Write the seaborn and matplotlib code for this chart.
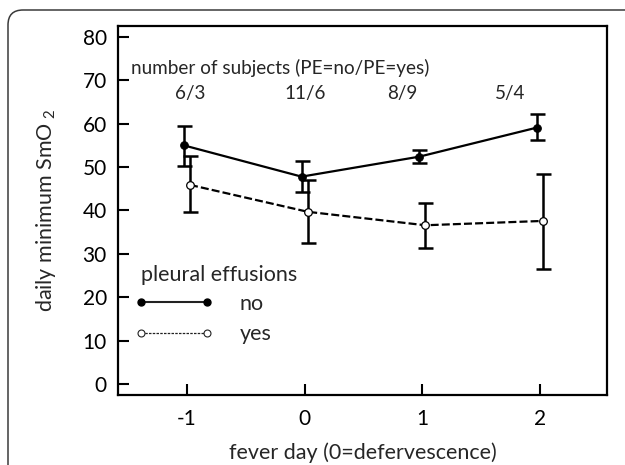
import matplotlib
matplotlib.use("Agg")
import matplotlib.pyplot as plt
import seaborn as sns
import pandas as pd
import numpy as np
from matplotlib.lines import Line2D
from matplotlib.patches import FancyBboxPatch

# Data: daily minimum SmO2 by fever day, split by pleural effusion status
days = [-1, 0, 1, 2]
no_mean = [55.0, 47.8, 52.4, 59.1]
no_upper = [59.5, 51.4, 53.9, 62.2]
no_lower = [50.3, 44.2, 51.0, 56.2]
yes_mean = [45.9, 39.7, 36.6, 37.6]
yes_upper = [52.5, 47.1, 41.8, 48.3]
yes_lower = [39.6, 32.4, 31.3, 26.6]
subject_counts = ["6/3", "11/6", "8/9", "5/4"]

sns.set_theme(style="ticks")
plt.rcParams["font.family"] = ["Lato", "DejaVu Sans"]
plt.rcParams["mathtext.fontset"] = "custom"
plt.rcParams["mathtext.rm"] = "Lato"
plt.rcParams["mathtext.it"] = "Lato"

W, H = 625, 465
fig = plt.figure(figsize=(W / 100, H / 100), dpi=100)
ax = fig.add_axes([118 / W, 1 - 395 / H, (607 - 118) / W, (395 - 26) / H])

# rounded card border around the figure (inch coordinates)
card = FancyBboxPatch((0.08, -0.3), 7.0, 4.85,
                      boxstyle="round,pad=0,rounding_size=0.15",
                      transform=fig.dpi_scale_trans, fill=False,
                      edgecolor="#3a3a3a", linewidth=1.1, zorder=-1)
fig.patches.append(card)

# small horizontal separation between the two groups at each day
offset = 0.026
df = pd.DataFrame({
    "day": np.r_[np.array(days) - offset, np.array(days) + offset],
    "smo2": no_mean + yes_mean,
    "pe": ["no"] * 4 + ["yes"] * 4,
})

sns.lineplot(data=df[df.pe == "no"], x="day", y="smo2", ax=ax, color="black",
             linewidth=1.6, marker="o", markersize=5.5, markerfacecolor="black",
             markeredgecolor="black", zorder=3)
sns.lineplot(data=df[df.pe == "yes"], x="day", y="smo2", ax=ax, color="black",
             linewidth=1.6, linestyle=(0, (3.6, 1.4)), marker="o",
             markersize=5.5, markerfacecolor="white", markeredgecolor="black",
             markeredgewidth=0.9, zorder=3)

for sub, mean, lo, hi in [("no", no_mean, no_lower, no_upper),
                          ("yes", yes_mean, yes_lower, yes_upper)]:
    xs = df[df.pe == sub]["day"].values
    m = np.array(mean)
    err = np.vstack([m - np.array(lo), np.array(hi) - m])
    ax.errorbar(xs, m, yerr=err, fmt="none", ecolor="black", elinewidth=1.8,
                capsize=5.4, capthick=1.8, zorder=2)

ax.set_xlim(-1.586, 2.569)
ax.set_ylim(-2.5, 82.5)
ax.set_xticks(days)
ax.set_xticklabels(["-1", "0", "1", "2"])
ax.set_yticks(np.arange(0, 81, 10))
ax.tick_params(axis="both", direction="in", length=8, width=1.5,
               labelsize=15, colors="black", pad=8)
ax.tick_params(axis="x", pad=10)
for s in ax.spines.values():
    s.set_visible(True)
    s.set_linewidth(1.6)
    s.set_color("black")

ax.set_xlabel("fever day (0=defervescence)", fontsize=15.5, labelpad=10)
ax.set_ylabel("daily minimum SmO$_{\\ 2}$", fontsize=15.5, labelpad=18)

# subject counts per day
ax.text(-1.476, 72.8, "number of subjects (PE=no/PE=yes)", fontsize=13.6,
        ha="left", va="center")
count_x = [-0.970, 0.003, 0.827, 1.745]
for cx, txt in zip(count_x, subject_counts):
    ax.text(cx, 67.0, txt, fontsize=13.6, ha="center", va="center")

# legend: title text plus two sample lines
ax.text(-1.39, 25.1, "pleural effusions", fontsize=15.5, ha="left",
        va="center")
handles = [
    Line2D([0], [0], color="#222222", linewidth=1.5, marker="o", markersize=5,
           markerfacecolor="black", markeredgecolor="black"),
    Line2D([0], [0], color="#222222", linewidth=0.9, linestyle=(0, (2, 1)),
           marker="o", markersize=5, markerfacecolor="white",
           markeredgecolor="#222222", markeredgewidth=0.8),
]
leg = ax.legend(handles, ["no", "yes"], loc="center left",
                bbox_to_anchor=(0.0337, 0.206), frameon=False,
                fontsize=15.5, numpoints=2, handlelength=3.67,
                handletextpad=1.23, labelspacing=0.48, borderpad=0,
                borderaxespad=0)

fig.savefig("out.png", dpi=100)
